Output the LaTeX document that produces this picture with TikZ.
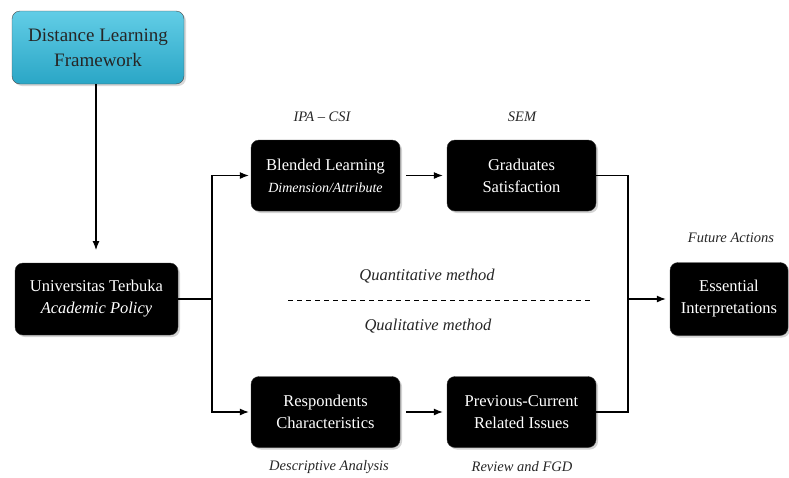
\documentclass[tikz,border=0pt]{standalone}
\usepackage{fontspec}
\setmainfont{Liberation Serif}
\usetikzlibrary{shadows,arrows.meta}
\definecolor{cyantop}{HTML}{62CDE6}
\definecolor{cyanbot}{HTML}{2AA6C6}
\tikzset{
  blackbox/.style={draw=black!80, fill=black, rounded corners=8pt, text=white,
    minimum width=149pt, minimum height=71pt, align=center, font=\fontsize{16.5}{22}\selectfont,
    drop shadow={shadow xshift=2pt, shadow yshift=-2pt, opacity=0.35}},
  cyanbx/.style={draw=black!70, top color=cyantop, bottom color=cyanbot, rounded corners=8pt, text=black!85,
    minimum width=172pt, minimum height=73pt, align=center, font=\fontsize{19}{25}\selectfont,
    drop shadow={shadow xshift=2pt, shadow yshift=-2pt, opacity=0.3}},
  lbl/.style={font=\itshape\fontsize{14.5}{17}\selectfont, text=black!85},
  mlbl/.style={font=\itshape\fontsize{16.5}{20}\selectfont, text=black!85},
  conn/.style={line width=1.1pt},
  arr/.style={line width=1.1pt, -{Latex[length=9pt,width=7pt]}}
}
\begin{document}
\begin{tikzpicture}[x=1pt,y=-1pt]
\useasboundingbox (0,0) rectangle (789,477);
\node[cyanbx] (dlf) at (98,47.5) {Distance Learning\\Framework};
\node[blackbox, minimum width=163pt, minimum height=72pt] (ut) at (96.5,299) {Universitas Terbuka\\\textit{Academic Policy}};
\node[blackbox] (bl) at (325.5,175.5) {Blended Learning\\\textit{\fontsize{14}{22}\selectfont Dimension/Attribute}};
\node[blackbox] (gs) at (521.5,175.5) {Graduates\\Satisfaction};
\node[blackbox] (rc) at (325.5,412) {Respondents\\Characteristics};
\node[blackbox] (pc) at (521.5,412) {Previous-Current\\Related Issues};
\node[blackbox, minimum width=118pt, minimum height=73pt] (ei) at (729,299) {Essential\\Interpretations};

\node[lbl] (l1) at (322,117) {IPA -- CSI};
\node[lbl] (l2) at (522,117) {SEM};
\node[lbl] (l3) at (731,238) {Future Actions};
\node[mlbl] (l4) at (427,276) {Quantitative method};
\node[mlbl] (l5) at (428,326) {Qualitative method};
\node[lbl] (l6) at (329,467) {Descriptive Analysis};
\node[lbl] (l7) at (522,467) {Review and FGD};

\coordinate (dl) at (288,300);
\coordinate (dr) at (590,300);
\draw[dash pattern=on 5pt off 4pt, line width=1pt] (dl) -- (dr);

\coordinate (a0) at (96,84);
\coordinate (a1) at (96,250);
\draw[arr] (a0) -- (a1);
\coordinate (j1) at (212,299);
\draw[conn] (ut.east) -- (j1);
\draw[arr] (j1) |- ([xshift=-2pt]bl.west);
\draw[arr] (j1) |- ([xshift=-2pt]rc.west);
\draw[arr] ([xshift=6pt]bl.east) -- ([xshift=-4pt]gs.west);
\draw[arr] ([xshift=6pt]rc.east) -- ([xshift=-4pt]pc.west);
\coordinate (j2) at (628,299);
\draw[conn] (gs.east) -| (j2);
\draw[conn] (pc.east) -| (j2);
\draw[arr] (j2) -- ([xshift=-4pt]ei.west);
\end{tikzpicture}
\end{document}
